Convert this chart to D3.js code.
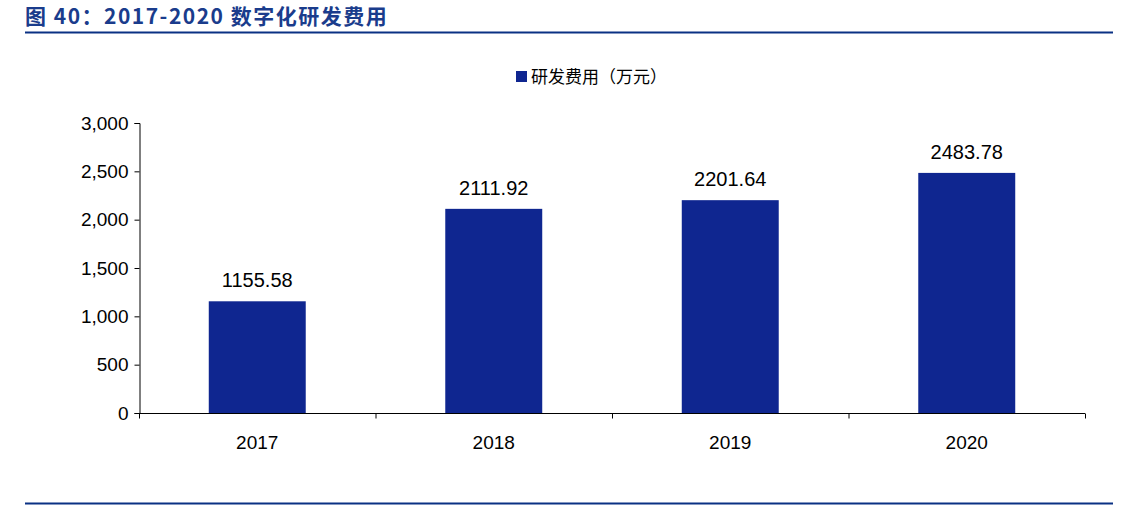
<!DOCTYPE html>
<html><head><meta charset="utf-8">
<script src="https://cdn.jsdelivr.net/npm/d3@7"></script>
<style>body{margin:0;background:#fff}</style>
</head><body><div class="chart"></div>
<script>
const years = ["2017", "2018", "2019", "2020"];
const spend = [1155.58, 2111.92, 2201.64, 2483.78];
const yTicks = [0, 500, 1000, 1500, 2000, 2500, 3000];

const width = 1124, height = 510;
const barColor = "#0f2690";
const font = "Liberation Sans, Arial, sans-serif";

const svg = d3.select(".chart").append("svg")
  .attr("width", width).attr("height", height);

// title
svg.append("text").attr("x", 25).attr("y", 24)
  .attr("font-family", "'Noto Sans CJK SC', sans-serif").attr("font-weight", "bold")
  .attr("font-size", 21).attr("fill", "#1a3c8c").attr("letter-spacing", 1.5)
  .text("图 40：2017-2020 数字化研发费用");
svg.append("line").attr("x1", 25).attr("x2", 1113).attr("y1", 32.5).attr("y2", 32.5)
  .attr("stroke", "#0a3184").attr("stroke-width", 2);
svg.append("line").attr("x1", 25).attr("x2", 1113).attr("y1", 503.5).attr("y2", 503.5)
  .attr("stroke", "#0a3184").attr("stroke-width", 2);

// legend
svg.append("rect").attr("x", 516).attr("y", 71).attr("width", 11).attr("height", 11).attr("fill", barColor);
svg.append("text").attr("x", 531).attr("y", 83)
  .attr("font-family", "'Noto Sans CJK SC', sans-serif").attr("font-size", 17)
  .text("研发费用（万元）");

const x = d3.scaleBand().domain(years).range([139, 1085]).paddingInner(0.59).paddingOuter(0.295);
const y = d3.scaleLinear().domain([0, 3000]).range([413, 123]);

svg.selectAll("rect.bar").data(years).enter().append("rect").attr("class", "bar")
  .attr("x", d => x(d)).attr("width", x.bandwidth())
  .attr("y", (d, i) => y(spend[i])).attr("height", (d, i) => y(0) - y(spend[i]))
  .attr("fill", barColor);

svg.selectAll("text.val").data(years).enter().append("text").attr("class", "val")
  .attr("x", d => x(d) + x.bandwidth() / 2).attr("y", (d, i) => y(spend[i]) - 14)
  .attr("text-anchor", "middle").attr("font-family", font).attr("font-size", 20)
  .text((d, i) => spend[i].toFixed(2));

// y axis
const ya = svg.append("g").attr("transform", "translate(139.5,0)")
  .call(d3.axisLeft(y).tickValues(yTicks).tickSize(5).tickPadding(6));
ya.select(".domain").attr("stroke", "#000");
ya.selectAll("text").attr("font-family", font).attr("font-size", 19).attr("fill", "#000");

// x axis with ticks at band boundaries
const xg = svg.append("g").attr("transform", "translate(0,413.5)");
xg.append("line").attr("x1", 139).attr("x2", 1085).attr("stroke", "#000");
const step = x.step();
xg.selectAll("line.t").data(d3.range(years.length + 1)).enter().append("line")
  .attr("x1", i => 139.5 + i * step).attr("x2", i => 139.5 + i * step)
  .attr("y1", 0).attr("y2", 5).attr("stroke", "#000");
xg.selectAll("text").data(years).enter().append("text")
  .attr("x", d => x(d) + x.bandwidth() / 2).attr("y", 35)
  .attr("text-anchor", "middle").attr("font-family", font).attr("font-size", 19)
  .text(d => d);
</script></body></html>
